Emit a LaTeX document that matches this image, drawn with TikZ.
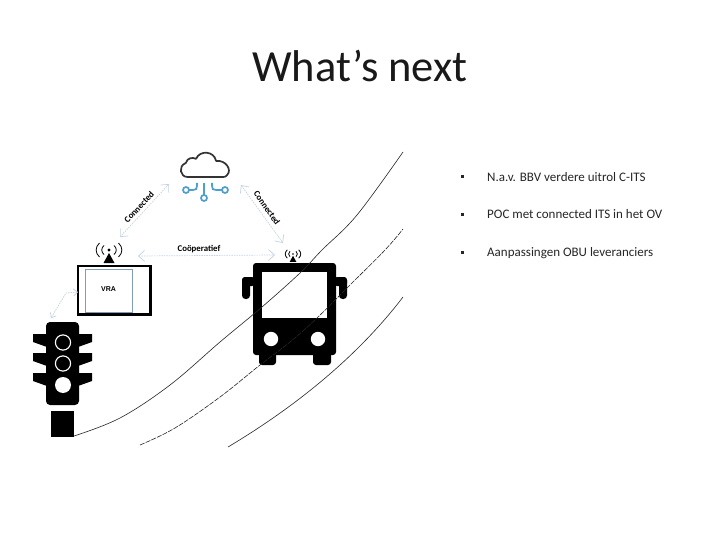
\documentclass[tikz,border=0pt]{standalone}
\usepackage{fontspec}
\setmainfont{Carlito}
\newfontfamily\vrafont{Liberation Sans}
\usetikzlibrary{arrows.meta}
\definecolor{linkblue}{HTML}{C3D3E3}
\definecolor{cloudblue}{HTML}{4E9FCB}
\definecolor{cloudink}{HTML}{333333}
\definecolor{screenblue}{HTML}{7F9DB9}
\tikzset{
  x=1pt,y=-1pt,
  road/.style={line width=0.6pt,black!85},
  roaddash/.style={road,dash pattern=on 5pt off 1.2pt},
  link/.style={linkblue,line width=0.7pt,dash pattern=on 1.5pt off 1pt,{Straight Barb[length=6pt,width=11pt,line width=0.7pt]}-{Straight Barb[length=6pt,width=11pt,line width=0.7pt]}},
  linklabel/.style={font=\bfseries\fontsize{8.8}{9}\selectfont,text=black,inner sep=0pt},
  bullettext/.style={font=\fontsize{13}{15}\selectfont,text=black!85,anchor=west,inner sep=0pt},
  bulletmark/.style={fill=black!85,minimum size=3pt,inner sep=0pt},
  blackpart/.style={fill=black,draw=none},
  circuit/.style={cloudblue,line width=1.7pt},
  antenna/.pic={
    \fill[black] (0,3) -- (-5.5,13) -- (5.5,13) -- cycle;
    \fill[black] (0,0) circle (1.6);
    \draw[black,line width=0.8pt]
      (-5,-4.5) .. controls (-8,-2) and (-8,2) .. (-5,4.5)
      (5,-4.5) .. controls (8,-2) and (8,2) .. (5,4.5)
      (-9.5,-7) .. controls (-14,-3) and (-14,3) .. (-9.5,7)
      (9.5,-7) .. controls (14,-3) and (14,3) .. (9.5,7);
  }
}
\begin{document}
\begin{tikzpicture}
\fill[white] (0,0) rectangle (720,540);
\useasboundingbox (0,0) rectangle (720,540);

% title
\node[font=\fontsize{44.5}{48}\selectfont,text=black!90,anchor=base,inner sep=0pt] (title) at (360,82) {What’s next};

% bullets
\node[bulletmark] (b1) at (462.5,176.5) {};
\node[bullettext] (t1) at (487,177) {N.a.v. BBV verdere uitrol C-ITS};
\node[bulletmark] (b2) at (462.5,214.5) {};
\node[bullettext] (t2) at (487,214.5) {POC met connected ITS in het OV};
\node[bulletmark] (b3) at (462.5,252.5) {};
\node[bullettext] (t3) at (487,252.7) {Aanpassingen OBU leveranciers};

% bus
\fill[blackpart,rounded corners=3pt] (253,263) rectangle (336,355);
\fill[blackpart,rounded corners=3pt] (259,345) rectangle (276,365);
\fill[blackpart,rounded corners=3pt] (313,345) rectangle (331,365);
\fill[blackpart,rounded corners=3pt] (242,277) rectangle (255,286);
\fill[blackpart,rounded corners=3.5pt] (242,277) rectangle (250,299);
\fill[blackpart,rounded corners=3pt] (334,277) rectangle (347,286);
\fill[blackpart,rounded corners=3.5pt] (339,277) rectangle (347,299);
\fill[white] (262,272) rectangle (327,318);
\fill[white] (271,339) circle (7.2);
\fill[white] (318,339) circle (7.2);

% roads
\draw[road] plot[smooth,tension=0.6] coordinates {(74,436) (120,418) (170,385) (220,342) (262,307) (300,273) (322,250) (357,215) (403,152)};
\draw[roaddash] plot[smooth,tension=0.6] coordinates {(140,445) (175,428) (220,397) (260,365) (290,342) (317,318) (348,287) (385,250) (403,229)};
\draw[road] (228,447) .. controls (290,410) and (355,360) .. (403,297);

% traffic light
\fill[blackpart,rounded corners=4pt] (46,322) rectangle (79,405);
\foreach \yy in {334,353,373}{
  \fill[blackpart] (33,\yy) -- (47,\yy) -- (47,\yy+13) -- (33,\yy+8) -- cycle;
  \fill[blackpart] (92,\yy) -- (78,\yy) -- (78,\yy+13) -- (92,\yy+8) -- cycle;
}
\draw[white,line width=1.1pt] (63,342.5) circle (7.6);
\draw[white,line width=1.1pt] (63,363.5) circle (7.6);
\fill[white] (63,385) circle (8);
\fill[blackpart] (51,411) rectangle (74,437);

% VRA unit
\draw[black,line width=2.4pt] (78,266) rectangle (150.5,314.5);
\node[draw=screenblue,line width=0.9pt,minimum width=47pt,minimum height=43pt,inner sep=0pt] (vra) at (108.5,290.5) {};
\node[font=\vrafont\bfseries\fontsize{7}{8}\selectfont,inner sep=0pt] (vratext) at (108.5,289) {VRA};

% antennas
\pic at (109,250) {antenna};
\pic[scale=0.6] at (293,254) {antenna};

% cloud
\draw[cloudink,line width=1.7pt,rounded corners=0.5pt]
  (188,177) .. controls (180,177) and (178,166) .. (186,163)
  .. controls (187,158) and (193,157) .. (196,159)
  .. controls (200,150) and (214,151) .. (216,161)
  .. controls (226,160) and (232,170) .. (227,175)
  .. controls (226,177) and (224,177) .. (222,177) -- cycle;
\draw[circuit] (186,190) circle (3);
\draw[circuit] (189,190) -- (193,190) .. controls (196,190) and (197,189) .. (197,186) -- (197,183);
\draw[circuit] (204,183) -- (204,195);
\draw[circuit] (204,198) circle (3);
\draw[circuit] (225,190) circle (3);
\draw[circuit] (222,190) -- (216,190) .. controls (213,190) and (212,189) .. (212,186) -- (212,183);

% connectors
\coordinate (cl) at (169,184);
\coordinate (al) at (120,237);
\coordinate (cr) at (241,185);
\coordinate (ar) at (283,243);
\coordinate (hl) at (138,256);
\coordinate (hr) at (275,255);
\coordinate (vl) at (78,292);
\coordinate (tl) at (51,318);
\draw[link] (cl) -- (al);
\draw[link] (cr) -- (ar);
\draw[link] (hl) -- (hr);
\draw[link,{Straight Barb[length=4pt,width=7pt,line width=0.7pt]}-{Straight Barb[length=4pt,width=7pt,line width=0.7pt]}] (vl) -- (66,293) -- (tl);

\node[linklabel,rotate=47] (lc1) at (139,207) {Connected};
\node[linklabel,rotate=-55] (lc2) at (267,208) {Connected};
\node[linklabel] (lc3) at (199,249) {Coöperatief};
\end{tikzpicture}
\end{document}
